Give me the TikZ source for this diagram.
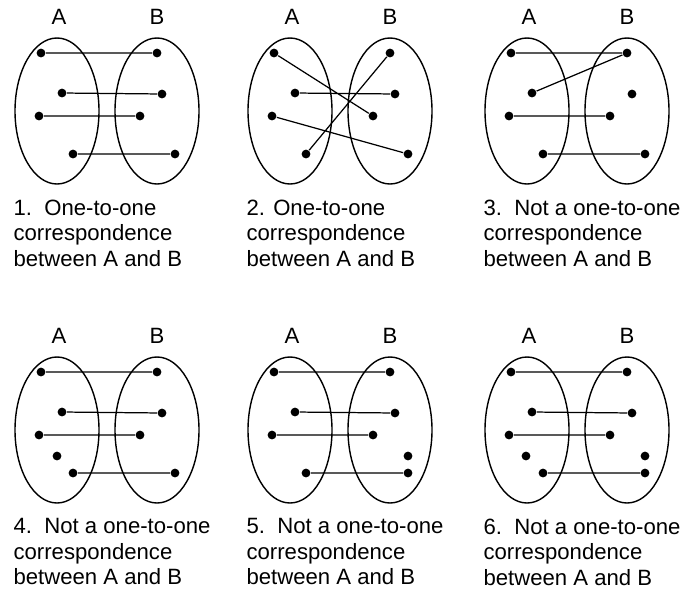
\documentclass[tikz,border=0pt]{standalone}
\usepackage{fontspec}
\setmainfont{Liberation Sans}
\begin{document}
\begin{tikzpicture}[x=0.02cm,y=-0.02cm,line width=0.7pt,
    elem/.style={circle,fill,inner sep=0pt,minimum size=5pt},
    setline/.style={line width=0.8pt},
    caption/.style={anchor=north west,align=left,inner sep=0pt,font=\fontsize{12.6}{14.5}\selectfont}]
    \useasboundingbox (0,0) rectangle (683,589);
    % the two sets of every panel, with their points
    \foreach \px/\py/\k in {57/111/1,290/111/2,527/111/3,57/430/4,290/430/5,527/430/6}{
        \begin{scope}[shift={(\px,\py)}]
            \draw[setline] (0,0) ellipse (42 and 73) (100,0) ellipse (42 and 73);
            \node[font=\fontsize{12.6}{14.5}\selectfont] (A\k) at (2,-94) {A};
            \node[font=\fontsize{12.6}{14.5}\selectfont] (B\k) at (100,-94) {B};
            \foreach \n/\x/\y in {1/-16/-58,2/5/-18,3/-18/5,5/16/43}
                \node[elem] (a\k\n) at (\x,\y) {};
            \foreach \n/\x/\y in {1/100/-58,2/105/-17,3/83/5,5/118/43}
                \node[elem] (b\k\n) at (\x,\y) {};
        \end{scope}}
    % extra points
    \node[elem] (a44) at (57,456) {};
    \node[elem] (a64) at (526,456) {};
    \node[elem] (b54) at (408,456) {};
    \node[elem] (b64) at (645,456) {};
    % pairings
    \foreach \k in {1,4,5,6}
        \draw (a\k1) -- (b\k1) (a\k2) -- (b\k2) (a\k3) -- (b\k3) (a\k5) -- (b\k5);
    \draw (a21) -- (b23) (a22) -- (b22) (a23) -- (b25) (a25) -- (b21);
    \draw (a31) -- (b31) (a32) -- (b31) (a33) -- (b33) (a35) -- (b35);
    % captions
    \node[caption] (c1) at (13,199) {1.\ \ One-to-one\\correspondence\\between A and B};
    \node[caption] (c2) at (246,199) {2. One-to-one\\correspondence\\between A and B};
    \node[caption] (c3) at (483,199) {3.\ \ Not a one-to-one\\correspondence\\between A and B};
    \node[caption] (c4) at (13,518) {4.\ \ Not a one-to-one\\correspondence\\between A and B};
    \node[caption] (c5) at (246,518) {5.\ \ Not a one-to-one\\correspondence\\between A and B};
    \node[caption] (c6) at (483,518) {6.\ \ Not a one-to-one\\correspondence\\between A and B};
\end{tikzpicture}
\end{document}
